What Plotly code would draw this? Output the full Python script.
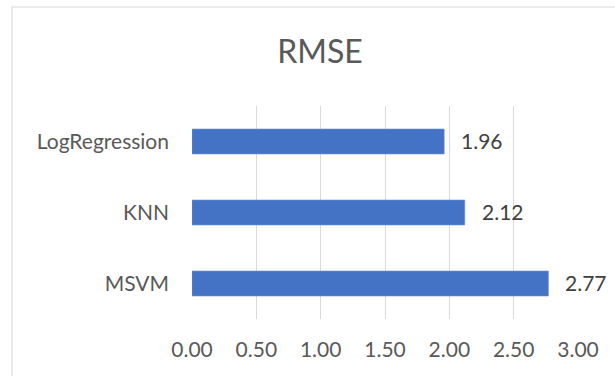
import plotly.graph_objects as go

categories = ["MSVM", "KNN", "LogRegression"]
rmse = [2.77, 2.12, 1.96]
tick_vals = [0, 0.5, 1.0, 1.5, 2.0, 2.5, 3.0]
tick_text = ["0.00", "0.50", "1.00", "1.50", "2.00", "2.50", "3.00"]
title_text = "RMSE"

FONT = "Lato"
fig = go.Figure()
fig.add_trace(go.Bar(
    x=rmse, y=categories, orientation="h",
    marker=dict(color="#4472C4", line=dict(color="#6f93d6", width=0.6)),
    width=0.352, hoverinfo="skip",
))
for v, c in zip(rmse, categories):
    fig.add_annotation(x=v, y=c, text=f"{v:.2f}", showarrow=False,
                       xanchor="left", yanchor="middle", xshift=15, yshift=1,
                       font=dict(family=FONT, size=21, color="#404040"))

fig.add_shape(type="rect", xref="paper", yref="paper",
              x0=-0.4663, x1=1.3, y0=-0.6, y1=1.4648,
              line=dict(color="#D9D9D9", width=1.2), fillcolor="rgba(0,0,0,0)", layer="below")

fig.update_layout(
    width=615, height=376,
    margin=dict(l=192, r=37, t=106, b=57),
    paper_bgcolor="white", plot_bgcolor="white",
    showlegend=False,
    title=dict(text=title_text, x=320/615, xanchor="center", xref="container",
               y=1 - 52/376, yanchor="middle", yref="container",
               font=dict(family=FONT, size=32, color="#595959")),
    font=dict(family=FONT, color="#595959"),
)
fig.update_xaxes(range=[0, 3], tickvals=tick_vals, ticktext=tick_text,
                 showgrid=True, gridcolor="#D9D9D9", gridwidth=1,
                 zeroline=False, showline=False, ticks="",
                 ticklabelstandoff=16,
                 tickfont=dict(family=FONT, size=21, color="#595959"))
fig.update_yaxes(type="category", categoryorder="array", categoryarray=categories,
                 showgrid=False, zeroline=False, showline=False, ticks="",
                 ticklabelstandoff=22,
                 tickfont=dict(family=FONT, size=21, color="#595959"))

fig.write_html("out.html")
